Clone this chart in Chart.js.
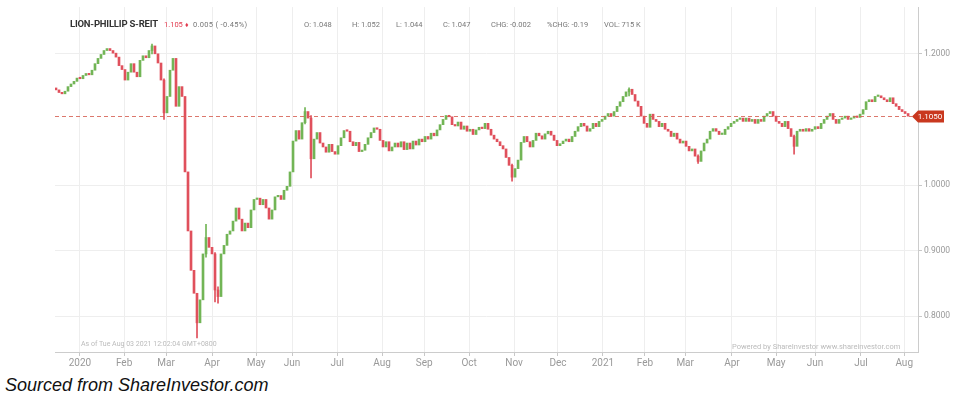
<!DOCTYPE html>
<html lang="en">
<head>
    <meta charset="UTF-8">
    <title>Lion-Phillip S-REIT</title>
    <script src="https://cdn.jsdelivr.net/npm/chart.js"></script>
    <style>
        body { margin: 0; background: #fff; font-family: Roboto, sans-serif; }
        #wrap { position: relative; width: 967px; height: 397px; overflow: hidden; }
        #box { position: absolute; left: 0; top: 0; width: 967px; height: 372px; }
        .t { position: absolute; white-space: nowrap; line-height: 12px; }
        .hd { top: 19px; font-size: 7.5px; color: #777; }
        .src { left: 5px; top: 375px; font: italic 18px "Liberation Sans", Arial, sans-serif; color: #111; line-height: 20px; }
    </style>
</head>
<body>
<div id="wrap">
    <div id="box"><canvas id="chart"></canvas></div>

    <span class="t" style="left:70px;top:18px;font-size:9.5px;font-weight:bold;color:#333;letter-spacing:-0.2px">LION-PHILLIP S-REIT</span>
    <span class="t" style="left:164px;top:19px;font-size:7.5px;color:#e23a4e">1.105</span>
    <span class="t" style="left:185px;top:19px;font-size:7px;color:#e23a4e">&#9830;</span>
    <span class="t hd" style="left:193px;letter-spacing:0.3px">0.005 ( -0.45%)</span>
    <span class="t hd" style="left:304px">O: 1.048</span>
    <span class="t hd" style="left:352px">H: 1.052</span>
    <span class="t hd" style="left:396px">L: 1.044</span>
    <span class="t hd" style="left:443px">C: 1.047</span>
    <span class="t hd" style="left:491px">CHG: -0.002</span>
    <span class="t hd" style="left:547px">%CHG: -0.19</span>
    <span class="t hd" style="left:604px">VOL: 715 K</span>

    <span class="t" style="left:81px;top:338px;font-size:7px;color:#bbb">As of Tue Aug 03 2021 12:02:04 GMT+0800</span>
    <span class="t" style="left:732px;top:341px;font-size:7.5px;color:#bbb">Powered by ShareInvestor www.shareinvestor.com</span>

    <span class="t src">Sourced from ShareInvestor.com</span>
</div>

<script>
    // closing prices, one candle every ~1.4 trading days (Dec 2019 - Aug 2021)
    const closes = [
        1.145, 1.141, 1.139, 1.143, 1.150, 1.154, 1.158, 1.163, 1.162, 1.167,
        1.170, 1.168, 1.175, 1.185, 1.193, 1.199, 1.205, 1.208, 1.205, 1.201,
        1.195, 1.182, 1.176, 1.160, 1.172, 1.185, 1.172, 1.165, 1.190, 1.197,
        1.194, 1.205, 1.212, 1.200, 1.186, 1.160, 1.110, 1.135, 1.175, 1.193,
        1.120, 1.150, 1.135, 1.020, 0.930, 0.870, 0.835, 0.790, 0.825, 0.895,
        0.920, 0.905, 0.895, 0.840, 0.830, 0.895, 0.908, 0.925, 0.930, 0.945,
        0.965, 0.948, 0.930, 0.942, 0.935, 0.962, 0.978, 0.980, 0.970, 0.978,
        0.965, 0.948, 0.962, 0.982, 0.984, 0.978, 0.992, 0.998, 1.020, 1.067,
        1.083, 1.070, 1.095, 1.112, 1.102, 1.040, 1.070, 1.080, 1.064, 1.058,
        1.050, 1.062, 1.051, 1.047, 1.060, 1.072, 1.083, 1.082, 1.066, 1.060,
        1.065, 1.051, 1.053, 1.062, 1.072, 1.080, 1.087, 1.085, 1.068, 1.058,
        1.066, 1.052, 1.058, 1.064, 1.058, 1.066, 1.054, 1.064, 1.055, 1.067,
        1.061, 1.070, 1.066, 1.074, 1.070, 1.079, 1.075, 1.084, 1.092, 1.100,
        1.106, 1.104, 1.092, 1.090, 1.096, 1.085, 1.090, 1.082, 1.085, 1.077,
        1.084, 1.088, 1.086, 1.094, 1.085, 1.076, 1.070, 1.066, 1.060, 1.055,
        1.042, 1.030, 1.012, 1.025, 1.038, 1.065, 1.074, 1.066, 1.058, 1.068,
        1.079, 1.075, 1.070, 1.078, 1.082, 1.076, 1.068, 1.060, 1.063, 1.067,
        1.070, 1.066, 1.074, 1.082, 1.089, 1.094, 1.090, 1.082, 1.086, 1.094,
        1.089, 1.097, 1.100, 1.105, 1.109, 1.105, 1.112, 1.120, 1.127, 1.135,
        1.142, 1.146, 1.138, 1.128, 1.120, 1.105, 1.094, 1.088, 1.108, 1.100,
        1.097, 1.089, 1.094, 1.085, 1.082, 1.074, 1.079, 1.070, 1.064, 1.067,
        1.059, 1.052, 1.055, 1.044, 1.036, 1.052, 1.064, 1.070, 1.082, 1.086,
        1.082, 1.077, 1.077, 1.085, 1.089, 1.094, 1.097, 1.100, 1.102, 1.097,
        1.102, 1.097, 1.100, 1.094, 1.100, 1.097, 1.105, 1.109, 1.112, 1.105,
        1.097, 1.094, 1.089, 1.097, 1.086, 1.074, 1.059, 1.082, 1.085, 1.082,
        1.086, 1.082, 1.085, 1.089, 1.086, 1.094, 1.100, 1.105, 1.109, 1.100,
        1.094, 1.100, 1.102, 1.105, 1.100, 1.102, 1.105, 1.103, 1.108, 1.115,
        1.127, 1.130, 1.127, 1.135, 1.136, 1.133, 1.130, 1.127, 1.133, 1.124,
        1.120, 1.115, 1.112, 1.109, 1.105
    ];
    const firstOpen = 1.148;

    // the longer shadows that stand out in the picture: candle index, low, high
    const wickIdx  = [32,    36,    47,    50,    53,    54,    83,    85,    152,   191,   214,   246];
    const wickLow  = [1.200, 1.100, 0.767, 0.890, 0.822, 0.820, 1.093, 1.011, 1.006, 1.136, 1.033, 1.047];
    const wickHigh = [1.215, 1.162, 0.830, 0.940, 0.897, 0.845, 1.118, 1.106, 1.032, 1.148, 1.046, 1.076];

    // where each month starts, in candle units
    const monthStarts = [8, 22.7, 36.7, 52, 66.7, 78.7, 93.7, 108.7, 122.7, 137.7,
        152.7, 167.3, 182.3, 196.3, 209.7, 225.3, 240, 253, 268.3, 282.7];
    const monthLabels = ['2020', 'Feb', 'Mar', 'Apr', 'May', 'Jun', 'Jul', 'Aug', 'Sep', 'Oct',
        'Nov', 'Dec', '2021', 'Feb', 'Mar', 'Apr', 'May', 'Jun', 'Jul', 'Aug'];

    const priceTicks = [0.8, 0.9, 1.0, 1.2];

    const UP = '#72b556';
    const DOWN = '#e0505c';

    const opens = closes.map((c, i) => i === 0 ? firstOpen : closes[i - 1]);
    const candles = closes.map((c, i) => ({ x: i, y: [opens[i], c] }));
    const wicks = wickIdx.map((i, k) => ({ x: i, y: [wickLow[k], wickHigh[k]] }));
    const colorAt = i => closes[i] >= opens[i] ? UP : DOWN;

    // dashed last-price line with the tag on the price axis
    const lastPrice = {
        id: 'lastPrice',
        afterDatasetsDraw(chart) {
            const { ctx, chartArea: a, scales: { y } } = chart;
            const v = closes[closes.length - 1];
            const py = Math.round(y.getPixelForValue(v)) + 0.5;
            ctx.save();
            ctx.strokeStyle = 'rgba(214,96,84,0.85)';
            ctx.lineWidth = 1;
            ctx.setLineDash([4, 3]);
            ctx.beginPath();
            ctx.moveTo(a.left, py);
            ctx.lineTo(a.right - 6, py);
            ctx.stroke();
            ctx.setLineDash([]);
            ctx.fillStyle = '#c9381f';
            ctx.beginPath();
            ctx.moveTo(a.right - 6, py);
            ctx.lineTo(a.right, py - 6);
            ctx.lineTo(a.right + 26, py - 6);
            ctx.lineTo(a.right + 26, py + 6);
            ctx.lineTo(a.right, py + 6);
            ctx.closePath();
            ctx.fill();
            ctx.fillStyle = '#fff';
            ctx.font = '8px Roboto';
            ctx.textAlign = 'center';
            ctx.textBaseline = 'middle';
            ctx.fillText(v.toFixed(4), a.right + 12, py + 0.5);
            ctx.restore();
        }
    };

    new Chart(document.getElementById('chart'), {
        type: 'bar',
        data: {
            datasets: [
                {
                    data: candles,
                    backgroundColor: ctx => colorAt(ctx.dataIndex),
                    borderWidth: 0,
                    barThickness: 2,
                    minBarLength: 1.5,
                    grouped: false,
                    order: 1,
                },
                {
                    data: wicks,
                    backgroundColor: ctx => colorAt(wickIdx[ctx.dataIndex]),
                    borderWidth: 0,
                    barThickness: 1,
                    grouped: false,
                    order: 2,
                },
            ],
        },
        options: {
            responsive: true,
            maintainAspectRatio: false,
            animation: false,
            layout: { padding: { left: 55, top: 5, right: 0, bottom: 0 } },
            plugins: { legend: { display: false }, tooltip: { enabled: false } },
            scales: {
                x: {
                    type: 'linear',
                    min: -0.33,
                    max: 287.3,
                    offset: false,
                    afterBuildTicks: s => { s.ticks = monthStarts.map(v => ({ value: v })); },
                    afterFit: s => { s.height = 20; },
                    grid: { color: '#eeeeee', tickLength: 4, tickColor: '#c8c8c8', offset: false },
                    border: { color: '#cccccc' },
                    ticks: {
                        autoSkip: false, maxRotation: 0, padding: 1,
                        color: '#999', font: { family: 'Roboto', size: 10 },
                        callback: (v, i) => monthLabels[i],
                    },
                },
                y: {
                    position: 'right',
                    min: 0.7455,
                    max: 1.2712,
                    afterBuildTicks: s => { s.ticks = priceTicks.map(v => ({ value: v })); },
                    afterFit: s => { s.width = 49; },
                    grid: { color: '#eeeeee', tickLength: 4, tickColor: '#c8c8c8' },
                    border: { color: '#cccccc' },
                    ticks: {
                        padding: 2, color: '#999', font: { family: 'Roboto', size: 8.5 },
                        callback: v => Number(v).toFixed(4),
                    },
                },
            },
        },
        plugins: [lastPrice],
    });
</script>
</body>
</html>
